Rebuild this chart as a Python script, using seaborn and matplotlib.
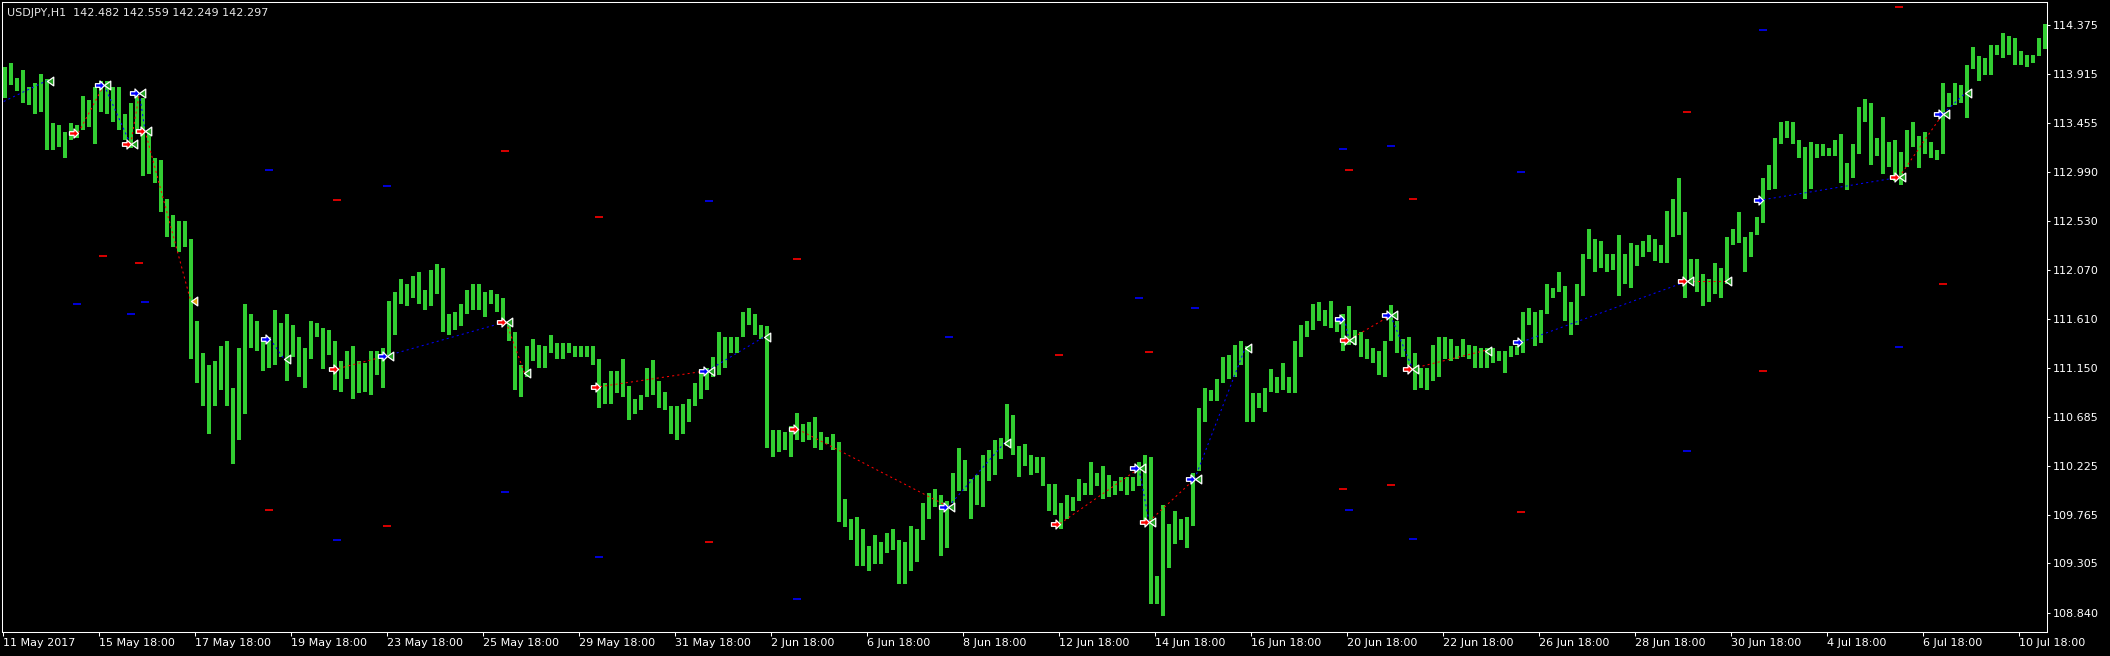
import numpy as np
import pandas as pd
import matplotlib
matplotlib.use("Agg")
import matplotlib.pyplot as plt
from matplotlib.path import Path
from matplotlib.markers import MarkerStyle
import seaborn as sns

# ---------------- data ----------------
chart_title = "USDJPY,H1  142.482 142.559 142.249 142.297"
bars_per_group = 3  # each drawn bar summarises 3 hourly bars (high / low)

bar_high = [
    113.98, 114.02, 113.88, 113.95, 113.79, 113.83, 113.91, 113.87, 113.45, 113.43,
    113.37, 113.45, 113.43, 113.71, 113.67, 113.79, 113.85, 113.85, 113.79, 113.79,
    113.54, 113.64, 113.71, 113.69, 113.37, 113.12, 113.10, 112.74, 112.59, 112.53,
    112.53, 112.36, 111.59, 111.29, 111.17, 111.21, 111.35, 111.40, 110.96, 111.33,
    111.75, 111.65, 111.59, 111.40, 111.44, 111.69, 111.57, 111.65, 111.55, 111.44,
    111.33, 111.59, 111.57, 111.52, 111.50, 111.40, 111.21, 111.31, 111.35, 111.21,
    111.19, 111.31, 111.31, 111.33, 111.78, 111.86, 111.98, 111.94, 112.01, 112.05,
    111.88, 112.07, 112.12, 112.09, 111.65, 111.67, 111.75, 111.88, 111.94, 111.94,
    111.86, 111.88, 111.84, 111.80, 111.59, 111.48, 111.17, 111.35, 111.42, 111.36,
    111.35, 111.46, 111.38, 111.38, 111.38, 111.35, 111.35, 111.35, 111.35, 111.23,
    111.00, 111.12, 111.12, 111.23, 110.98, 110.85, 110.89, 111.15, 111.22, 111.02,
    110.92, 110.79, 110.79, 110.81, 110.85, 111.00, 111.14, 111.15, 111.25, 111.48,
    111.44, 111.44, 111.44, 111.67, 111.71, 111.65, 111.55, 111.54, 110.56, 110.56,
    110.54, 110.60, 110.72, 110.62, 110.64, 110.68, 110.54, 110.50, 110.52, 110.45,
    109.91, 109.72, 109.74, 109.63, 109.47, 109.57, 109.51, 109.59, 109.63, 109.53,
    109.51, 109.66, 109.63, 109.87, 109.97, 110.01, 109.95, 109.89, 110.16, 110.39,
    110.28, 110.10, 110.14, 110.33, 110.37, 110.47, 110.49, 110.81, 110.70, 110.41,
    110.43, 110.33, 110.31, 110.31, 110.05, 110.05, 109.87, 109.95, 109.93, 110.10,
    110.06, 110.26, 110.16, 110.22, 110.14, 110.08, 110.12, 110.12, 110.12, 110.26,
    110.33, 110.31, 109.19, 109.86, 109.68, 109.80, 109.72, 109.74, 110.16, 110.77,
    110.96, 110.94, 111.04, 111.25, 111.27, 111.36, 111.40, 111.35, 110.91, 110.91,
    110.96, 111.14, 111.06, 111.19, 111.06, 111.40, 111.55, 111.59, 111.75, 111.77,
    111.69, 111.78, 111.63, 111.65, 111.73, 111.50, 111.48, 111.42, 111.33, 111.31,
    111.40, 111.74, 111.59, 111.42, 111.44, 111.29, 111.15, 111.15, 111.36, 111.44,
    111.44, 111.42, 111.35, 111.42, 111.36, 111.35, 111.33, 111.33, 111.33, 111.31,
    111.31, 111.35, 111.35, 111.67, 111.71, 111.67, 111.69, 111.94, 111.90, 112.05,
    111.92, 111.77, 111.94, 112.22, 112.45, 112.36, 112.34, 112.22, 112.22, 112.40,
    112.22, 112.32, 112.30, 112.34, 112.40, 112.36, 112.30, 112.62, 112.74, 112.93,
    112.61, 112.17, 112.17, 112.03, 111.98, 112.13, 112.09, 112.38, 112.45, 112.61,
    112.38, 112.43, 112.57, 112.93, 113.06, 113.31, 113.46, 113.47, 113.46, 113.29,
    113.23, 113.27, 113.25, 113.25, 113.22, 113.29, 113.35, 113.08, 113.25, 113.60,
    113.68, 113.64, 113.31, 113.51, 113.27, 113.29, 113.18, 113.39, 113.46, 113.33,
    113.37, 113.27, 113.20, 113.83, 113.73, 113.83, 113.81, 114.00, 114.17, 114.08,
    114.06, 114.19, 114.19, 114.30, 114.27, 114.25, 114.13, 114.09, 114.09, 114.25,
    114.38]
bar_low = [
    113.69, 113.81, 113.75, 113.64, 113.62, 113.54, 113.56, 113.20, 113.20, 113.23,
    113.12, 113.29, 113.31, 113.39, 113.41, 113.25, 113.56, 113.54, 113.46, 113.39,
    113.29, 113.22, 113.35, 112.95, 112.97, 112.89, 112.61, 112.38, 112.28, 112.24,
    112.28, 111.23, 111.00, 110.79, 110.52, 110.79, 110.94, 110.79, 110.24, 110.47,
    110.71, 111.33, 111.31, 111.12, 111.15, 111.17, 111.25, 111.02, 111.25, 111.06,
    110.96, 111.23, 111.44, 111.14, 111.27, 110.94, 110.92, 111.04, 110.85, 110.91,
    110.92, 110.89, 111.08, 110.96, 111.27, 111.46, 111.75, 111.73, 111.80, 111.75,
    111.69, 111.73, 111.84, 111.48, 111.46, 111.50, 111.54, 111.65, 111.69, 111.69,
    111.63, 111.75, 111.67, 111.55, 111.40, 110.94, 110.87, 111.06, 111.21, 111.15,
    111.15, 111.29, 111.23, 111.23, 111.29, 111.25, 111.25, 111.25, 111.17, 110.77,
    110.81, 110.81, 110.91, 110.87, 110.66, 110.71, 110.75, 110.87, 110.89, 110.77,
    110.75, 110.52, 110.47, 110.52, 110.64, 110.79, 110.85, 110.94, 111.06, 111.08,
    111.15, 111.29, 111.29, 111.44, 111.55, 111.46, 111.42, 110.39, 110.31, 110.35,
    110.37, 110.31, 110.47, 110.45, 110.47, 110.39, 110.37, 110.43, 110.37, 109.70,
    109.65, 109.53, 109.28, 109.28, 109.23, 109.30, 109.30, 109.40, 109.43, 109.11,
    109.11, 109.23, 109.32, 109.53, 109.72, 109.84, 109.38, 109.45, 109.87, 109.99,
    109.99, 109.72, 109.86, 109.84, 110.08, 110.14, 110.29, 110.41, 110.33, 110.12,
    110.22, 110.14, 110.16, 110.03, 109.80, 109.76, 109.63, 109.72, 109.80, 109.89,
    109.95, 109.95, 110.03, 109.91, 109.93, 109.95, 109.99, 109.95, 109.99, 110.03,
    109.68, 108.92, 108.92, 108.81, 109.26, 109.49, 109.53, 109.45, 109.66, 110.18,
    110.64, 110.83, 110.83, 111.00, 111.04, 111.06, 111.17, 110.64, 110.64, 110.77,
    110.73, 110.92, 110.91, 110.94, 110.91, 110.91, 111.25, 111.44, 111.50, 111.59,
    111.54, 111.52, 111.48, 111.31, 111.36, 111.36, 111.25, 111.23, 111.19, 111.08,
    111.06, 111.40, 111.29, 111.25, 111.17, 110.94, 110.96, 110.94, 111.02, 111.06,
    111.23, 111.21, 111.23, 111.25, 111.23, 111.15, 111.15, 111.15, 111.19, 111.21,
    111.10, 111.25, 111.27, 111.29, 111.55, 111.35, 111.38, 111.65, 111.80, 111.86,
    111.59, 111.46, 111.55, 111.82, 112.17, 112.05, 112.09, 112.05, 112.07, 111.82,
    111.94, 111.90, 112.11, 112.19, 112.24, 112.15, 112.13, 112.13, 112.38, 112.40,
    111.80, 111.94, 111.86, 111.73, 111.77, 111.84, 111.80, 111.94, 112.30, 112.32,
    112.05, 112.19, 112.40, 112.51, 112.82, 112.83, 113.25, 113.31, 113.25, 113.12,
    112.74, 112.83, 113.12, 113.14, 113.14, 113.14, 112.89, 112.82, 112.93, 113.16,
    113.46, 113.06, 113.14, 112.97, 113.04, 112.91, 112.87, 113.04, 113.23, 113.03,
    113.16, 113.12, 113.10, 113.16, 113.60, 113.62, 113.64, 113.50, 113.96, 113.85,
    113.90, 113.90, 114.09, 114.06, 114.09, 114.00, 114.00, 113.98, 114.02, 114.08,
    114.15]

date_labels = ["11 May 2017", "15 May 18:00", "17 May 18:00", "19 May 18:00", "23 May 18:00",
               "25 May 18:00", "29 May 18:00", "31 May 18:00", "2 Jun 18:00", "6 Jun 18:00",
               "8 Jun 18:00", "12 Jun 18:00", "14 Jun 18:00", "16 Jun 18:00", "20 Jun 18:00",
               "22 Jun 18:00", "26 Jun 18:00", "28 Jun 18:00", "30 Jun 18:00", "4 Jul 18:00",
               "6 Jul 18:00", "10 Jul 18:00"]
bars_between_labels = 48
price_ticks = [108.840, 109.305, 109.765, 110.225, 110.685, 111.150, 111.610,
               112.070, 112.530, 112.990, 113.455, 113.915, 114.375]

# trades (bar index counted in hourly bars from the first bar)
trade_side = ["buy", "sell", "buy", "sell", "buy", "sell", "buy", "sell", "buy", "sell",
              "sell", "buy", "sell", "buy", "sell", "buy", "sell", "buy", "buy", "sell",
              "buy", "sell", "buy", "sell", "buy", "sell", "buy"]
open_bar = [-10, 37.7, 50.5, 63.8, 68.2, 71, 133.5, 167.6, 191.8, 251.5,
            298.5, 352.3, 397.3, 472.7, 528.5, 568, 573, 595.8, 670.7, 673,
            693.8, 704.7, 759.3, 841.8, 880.2, 948, 970]
open_price = [113.56, 113.36, 113.81, 113.25, 113.73, 113.38, 111.42, 111.14, 111.26, 111.58,
              110.97, 111.12, 110.57, 109.84, 109.68, 110.20, 109.70, 110.10, 111.61, 111.41,
              111.64, 111.14, 111.39, 111.96, 112.73, 112.94, 113.54]
close_bar = [21.8, 50.5, 63.8, 68.2, 71, 93.8, 140.5, 191.8, 251.5, 260.7,
             352.3, 380.7, 472.7, 500.7, 568, 573, 595.8, 621, 673, 693.8,
             704.7, 741, 841.8, 861, 948, 970, 981]
close_price = [113.85, 113.81, 113.25, 113.73, 113.38, 111.78, 111.23, 111.26, 111.58, 111.10,
               111.12, 111.44, 109.84, 110.44, 110.20, 109.70, 110.10, 111.33, 111.41, 111.64,
               111.14, 111.31, 111.96, 111.96, 112.94, 113.54, 113.73]
close_kind = ["normal"] * 5 + ["gold"] + ["normal"] * 21

# short level marks (stop/target levels)
level_bar = [133, 192, 167, 50, 68, 37, 71, 64, 133, 192, 167,
             251, 298, 353, 397, 251, 298, 353, 397,
             473, 528, 568, 573, 596,
             670, 694, 673, 705, 759, 670, 694, 673, 705, 759,
             948, 880, 842, 970, 948, 880, 842]
level_price = [113.01, 112.86, 112.73, 112.20, 112.13, 111.75, 111.77, 111.65, 109.81, 109.66, 109.53,
               113.19, 112.57, 112.72, 112.17, 109.98, 109.37, 109.51, 108.97,
               111.44, 111.27, 111.80, 111.30, 111.71,
               113.21, 113.24, 113.01, 112.74, 112.99, 110.01, 110.04, 109.81, 109.54, 109.79,
               114.54, 114.33, 113.56, 111.94, 111.34, 111.12, 110.36]
level_side = ["buy", "buy", "sell", "sell", "sell", "buy", "buy", "buy", "sell", "sell", "buy",
              "sell", "sell", "buy", "sell", "buy", "buy", "sell", "buy",
              "buy", "sell", "buy", "sell", "buy",
              "buy", "buy", "sell", "sell", "buy", "sell", "sell", "buy", "buy", "sell",
              "sell", "buy", "sell", "sell", "buy", "sell", "buy"]

# ---------------- style ----------------
sns.set_style("dark", {"axes.facecolor": "black", "figure.facecolor": "black",
                       "axes.edgecolor": "white", "grid.color": "black"})
plt.rcParams["font.family"] = ["DejaVu Sans"]

side_color = {"buy": "#0000ff", "sell": "#ff0000"}
W, H = 2110, 656
fig = plt.figure(figsize=(W / 100, H / 100), dpi=100, facecolor="black")
ax = fig.add_axes([2 / W, 24 / H, 2045 / W, 630 / H])
ax.set_facecolor("black")

# bars
n = min(len(bar_high), len(bar_low))
hi = np.array(bar_high[:n])
lo = np.array(bar_low[:n])
xg = np.arange(n) * bars_per_group + (bars_per_group - 1) / 2
ax.bar(xg, hi - lo, bottom=lo, width=1.6, color="#32cd32", linewidth=0, zorder=2)

# trade lines
for s, ob, op, cb, cp in zip(trade_side, open_bar, open_price, close_bar, close_price):
    ax.plot([ob, cb], [op, cp], color=side_color[s], lw=0.75,
            linestyle=(0, (2, 3)), zorder=3)

# level marks
lv = pd.DataFrame({"bar": level_bar, "price": level_price, "side": level_side})
sns.scatterplot(data=lv, x="bar", y="price", hue="side", palette=side_color,
                marker="_", s=30, linewidth=1.2, legend=False, ax=ax, zorder=3)

# markers
arrow = MarkerStyle(Path([(0, 0), (-0.5, 0.5), (-0.5, 0.2), (-1, 0.2), (-1, -0.2),
                          (-0.5, -0.2), (-0.5, -0.5), (0, 0)], closed=True))
tri = MarkerStyle(Path([(0, 0), (1, 0.7), (1, -0.7), (0, 0)], closed=True))
for s, ob, op in zip(trade_side, open_bar, open_price):
    ax.plot([ob], [op], linestyle="none", marker=arrow, markersize=13,
            mfc=side_color[s], mec="white", mew=0.9, zorder=5)
for k, cb, cp in zip(close_kind, close_bar, close_price):
    ax.plot([cb], [cp], linestyle="none", marker=tri, markersize=9,
            mfc="#e0a010" if k == "gold" else "#22a022", mec="white", mew=0.9, zorder=5)

# axes
ax.set_xlim(-0.5, 1022)
ax.set_ylim(108.660, 114.591)
ax.set_xticks(np.arange(len(date_labels)) * bars_between_labels)
ax.set_xticklabels(date_labels, ha="left")
ax.yaxis.tick_right()
ax.set_yticks(price_ticks)
ax.set_yticklabels([f"{p:.3f}" for p in price_ticks])
ax.tick_params(axis="x", colors="white", direction="out", length=3, width=0.75,
               pad=1, labelsize=8, bottom=True)
ax.tick_params(axis="y", colors="white", direction="out", length=2.5, width=0.75,
               pad=2, labelsize=8, right=True, left=False)
ax.grid(False)
for sp in ax.spines.values():
    sp.set_color("white")
    sp.set_linewidth(0.75)
ax.set_xlabel("")
ax.set_ylabel("")

fig.text(7 / W, 1 - 13 / H, chart_title, color="#e6e6e6", fontsize=8,
         ha="left", va="center")

fig.savefig("out.png", dpi=100, facecolor="black")
